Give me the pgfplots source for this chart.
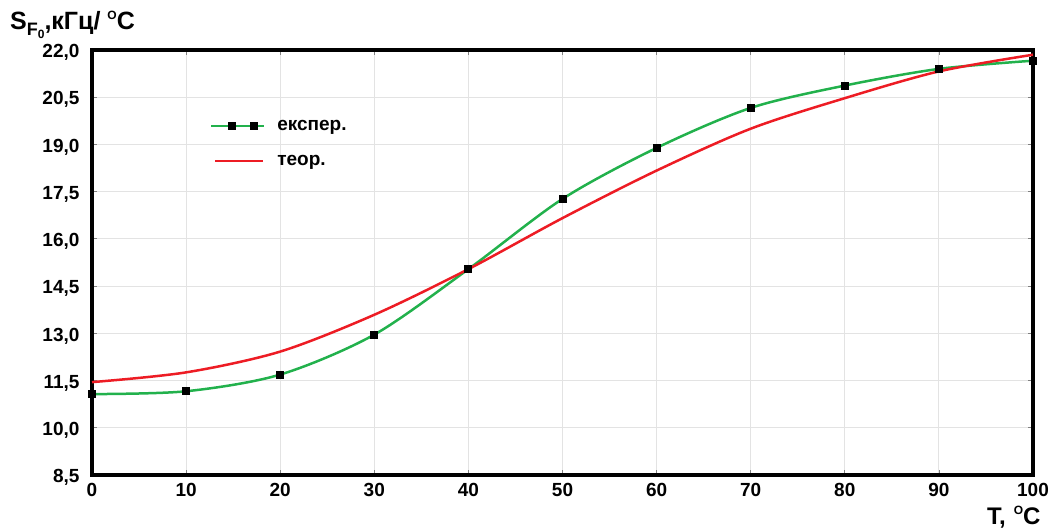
\documentclass[border=0pt]{standalone}
\usepackage{fontspec}
\setmainfont{Liberation Sans}
\usepackage{pgfplots}
\pgfplotsset{compat=1.18}
\usetikzlibrary{calc}

\definecolor{expgreen}{RGB}{34,177,76}
\definecolor{teored}{RGB}{237,28,36}

\pgfplotsset{
  explegend/.style={legend image code/.code={
    \draw[##1,mark=none] (0pt,0pt) -- (53pt,0pt);
    \draw[##1,draw=none] plot[mark repeat=2,mark phase=2] coordinates {(0pt,0pt) (21pt,0pt) (32pt,0pt) (43pt,0pt) (53pt,0pt)};
  }},
  teolegend/.style={legend image code/.code={\draw[##1] (4pt,0pt) -- (52pt,0pt);}},
}

\begin{document}
\begin{tikzpicture}
\begin{axis}[
  scale only axis,
  width=941pt, height=425pt,
  xmin=0, xmax=100, ymin=8.5, ymax=22,
  xtick={0,10,...,100},
  ytick={8.5,10,11.5,13,14.5,16,17.5,19,20.5,22},
  yticklabels={{8,5},{10,0},{11,5},{13,0},{14,5},{16,0},{17,5},{19,0},{20,5},{22,0}},
  /pgf/number format/assume math mode=true,
  ticklabel style={font=\fontsize{19}{21}\selectfont\bfseries},
  yticklabel style={xshift=-9pt,yshift=-2.5pt},
  xticklabel style={yshift=-5pt},
  grid=major,
  grid style={draw=gray!22,line width=1pt},
  axis line style={black,line width=4.5pt},
  tick style={gray,line width=0.8pt},
  major tick length=5pt,
  tick align=inside,
  clip=false,
  legend style={at={(rel axis cs:0.125,0.84)},anchor=north west,draw=none,fill=none,
    font=\fontsize{19}{21}\selectfont\bfseries,row sep=19pt,inner sep=0pt,
    /tikz/every odd column/.append style={column sep=10pt}},
  legend cell align={left},
]
\coordinate (sw) at (rel axis cs:0,0);
\coordinate (ne) at (rel axis cs:1,1);
\addplot[color=expgreen,line width=2.5pt,smooth,mark=square*,mark size=3.5pt,
  mark options={fill=black,draw=black,line width=0pt},explegend]
coordinates {(0,11.07) (10,11.16) (20,11.69) (30,12.96) (40,15.04) (50,17.27) (60,18.89) (70,20.16) (80,20.87) (90,21.40) (100,21.66)};
\addlegendentry{експер.}
\addplot[color=teored,line width=2.5pt,smooth,teolegend]
coordinates {(0,11.45) (10,11.76) (20,12.42) (30,13.59) (40,15.04) (50,16.66) (60,18.17) (70,19.50) (80,20.47) (90,21.32) (100,21.85)};
\addlegendentry{теор.}
\end{axis}
\node[anchor=base west,inner sep=0pt] at ($(sw|-ne)+(-82pt,20pt)$) {\bfseries
  \fontsize{25}{25}\selectfont S\raisebox{-6pt}{\fontsize{18}{18}\selectfont F\raisebox{-2.5pt}{\fontsize{12}{12}\selectfont 0}}\fontsize{25}{25}\selectfont,кГц/ \raisebox{10pt}{\fontsize{12}{12}\selectfont O}C};
\node[anchor=base west,inner sep=0pt] at ($(ne|-sw)+(-46pt,-49pt)$) {\bfseries
  \fontsize{24}{24}\selectfont T,\hspace{8pt}\raisebox{10pt}{\fontsize{12}{12}\selectfont O}C};
\pgfresetboundingbox
\path ($(sw)+(-92pt,-56pt)$) rectangle ($(ne)+(18pt,50pt)$);
\end{tikzpicture}
\end{document}
